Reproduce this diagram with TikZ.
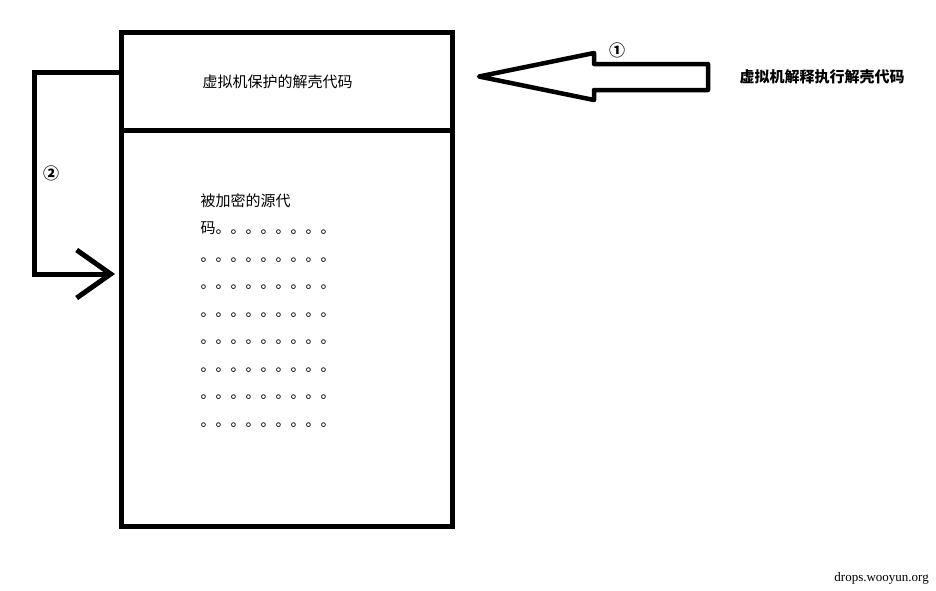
\documentclass[tikz,border=0pt]{standalone}
\usepackage{fontspec}
\usetikzlibrary{arrows.meta}
\newfontfamily\cjk{Noto Sans CJK SC}
\newfontfamily\footfont{Liberation Serif}

\begin{document}
\begin{tikzpicture}[x=1pt, y=-1pt,
		box/.style={draw, rectangle, line width=5pt, inner sep=0pt, minimum width=331pt},
		cjktext/.style={font=\cjk\fontsize{15pt}{15pt}\selectfont, inner sep=0pt, anchor=base west},
		numlabel/.style={font=\cjk\bfseries\fontsize{16pt}{16pt}\selectfont, inner sep=0pt}]
		\useasboundingbox (0,0) rectangle (936,590);
		
		% Shell code (top part)
		\node[box, minimum height=98pt] (shell) at (287, 81.5) {};
		\node[cjktext] (shelllabel) at (202.5, 87.7) {虚拟机保护的解壳代码};
		
		% Encrypted source (bottom part)
		\node[box, minimum height=395.5pt] (source) at (287, 328.25) {};
		\node[cjktext] (srcline) at (200.5, 206) {被加密的源代};
		\node[cjktext] (row0) at (200.5, 233.5) {码。。。。。。。。};
		\foreach \i in {1,...,7} {
			\node[cjktext] (row\i) at (200.5, 233.5+27.5*\i) {。。。。。。。。。};
		}
		
		% Interpreter label and its hollow arrow
		\node[cjktext, font=\cjk\bfseries\fontsize{15pt}{15pt}\selectfont] (vmlabel) at (739.5, 82.7) {虚拟机解释执行解壳代码};
		\draw[line width=4.5pt, line join=round] (479, 76.5) -- (594, 53) -- (594, 64) -- (708, 64)
			-- (708, 90) -- (594, 90) -- (594, 100) -- cycle;
		
		% Step numbers
		\node[numlabel] (stepone) at (617, 50) {①};
		\node[numlabel] (steptwo) at (51, 173) {②};
		
		% Jump into the decrypted source
		\draw[line width=5pt, -{Straight Barb[length=34pt, width=48pt]}] ([yshift=9pt]shell.west) -| (34, 274) -- ([shift={(-4pt,54.25pt)}]source.west);
		
		% Footer
		\node[font=\footfont\fontsize{13pt}{13pt}\selectfont, anchor=base east, inner sep=0pt] (site) at (929, 581) {drops.wooyun.org};
	\end{tikzpicture}
\end{document}
